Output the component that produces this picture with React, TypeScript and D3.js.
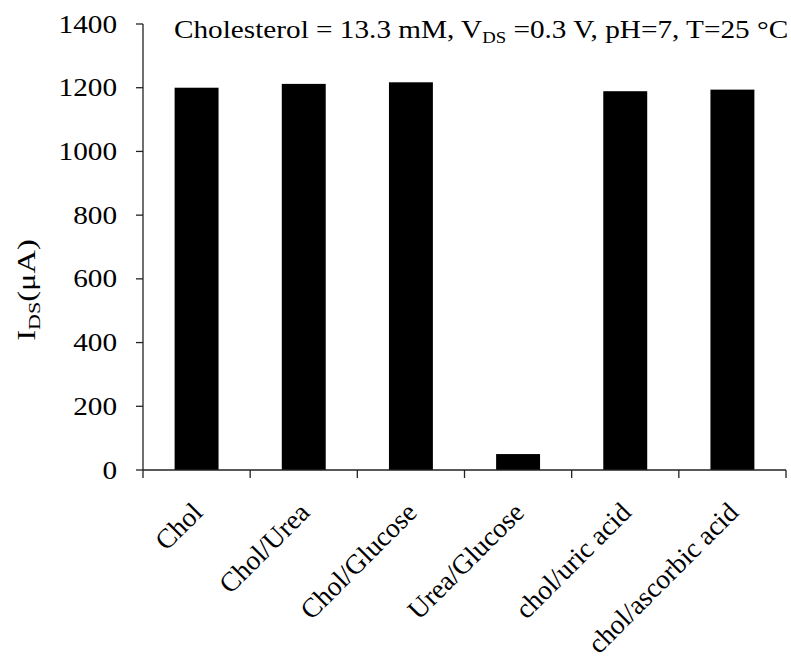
import React from 'react';
import * as d3 from 'd3';

const categories = ['Chol', 'Chol/Urea', 'Chol/Glucose', 'Urea/Glucose', 'chol/uric acid', 'chol/ascorbic acid'];
const currents = [1200, 1212, 1217, 50, 1189, 1194];
const yTicks = [0, 200, 400, 600, 800, 1000, 1200, 1400];

const W = 791;
const H = 659;
const FONT = '"Liberation Serif", "Times New Roman", serif';
const SX = 1.17; // source picture is a bit wider than tall

const App: React.FC = () => {
    const x = d3.scaleBand<string>()
        .domain(categories)
        .range([143, 786])
        .paddingInner(0.59)
        .paddingOuter(0.295);

    const y = d3.scaleLinear()
        .domain([0, 1400])
        .range([470, 24]);

    const step = x.step();
    const x0 = x.range()[0];
    const boundaries = d3.range(categories.length + 1).map(i => x0 + i * step);

    return (
        <svg width={W} height={H} style={{ position: 'absolute', left: 0, top: 0, background: '#fff' }}
            fontFamily={FONT}>
            {/* bars */}
            {categories.map((c, i) => (
                <rect key={c}
                    x={x(c)}
                    y={y(currents[i])}
                    width={x.bandwidth()}
                    height={y(0) - y(currents[i])}
                    fill="#000" />
            ))}

            {/* y axis */}
            <line x1={x0} x2={x0} y1={y(1400)} y2={y(0)} stroke="#222" strokeWidth={1.3} />
            {yTicks.map(t => (
                <g key={t}>
                    <line x1={x0 - 7} x2={x0} y1={y(t)} y2={y(t)} stroke="#222" strokeWidth={1.3} />
                    <text transform={`translate(117,${y(t) + 8.5}) scale(${SX},1)`}
                        textAnchor="end" fontSize={25} fill="#000">{t}</text>
                </g>
            ))}

            {/* x axis */}
            <line x1={x0} x2={boundaries[boundaries.length - 1]} y1={y(0)} y2={y(0)} stroke="#222" strokeWidth={1.3} />
            {boundaries.map((b, i) => (
                <line key={i} x1={b} x2={b} y1={y(0)} y2={y(0) + 8} stroke="#222" strokeWidth={1.3} />
            ))}
            {categories.map(c => (
                <text key={c}
                    transform={`translate(${(x(c) as number) + x.bandwidth() / 2 + 7.5},514) rotate(-45)`}
                    textAnchor="end" fontSize={27.5} fill="#000">{c}</text>
            ))}

            {/* y label */}
            <text transform="translate(35,290) rotate(-90) scale(1.3,1)" textAnchor="middle" fontSize={25} fill="#000">
                I<tspan fontSize={17} dy={5}>DS</tspan><tspan dy={-5}>(μA)</tspan>
            </text>

            {/* condition note */}
            <text transform={`translate(174,38) scale(${SX},1)`} fontSize={25} fill="#000">
                Cholesterol = 13.3 mM, V<tspan fontSize={16} dy={5}>DS</tspan><tspan dy={-5}> =0.3 V, pH=7, T=25 °C</tspan>
            </text>
        </svg>
    );
};

export default App;
